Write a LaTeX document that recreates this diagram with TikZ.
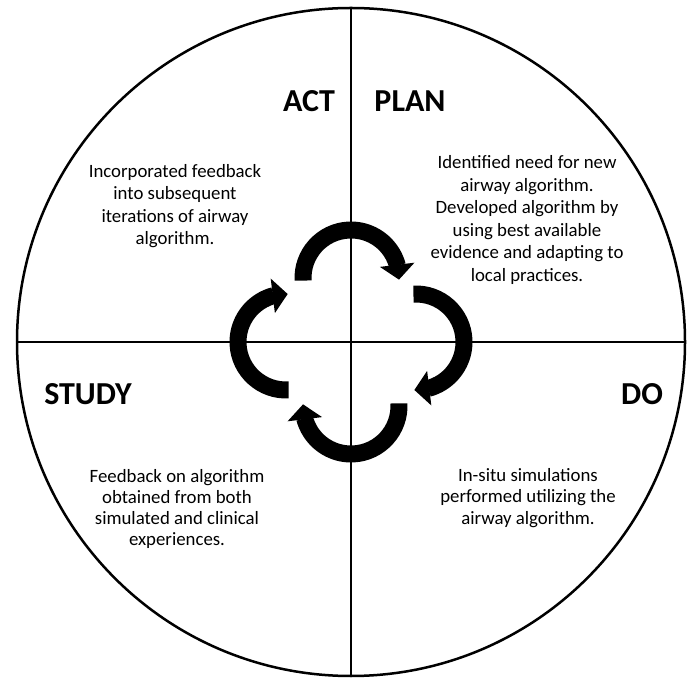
\documentclass[tikz,border=0pt]{standalone}
\usepackage{fontspec}
\setmainfont{Carlito}
\usetikzlibrary{calc,arrows.meta,bending}
\tikzstyle{ring}=[circle,draw,line width=2.5pt,minimum size=668pt,inner sep=0pt]
\tikzstyle{divider}=[draw,line width=2pt,-]
\tikzstyle{cyclearrow}=[draw,line width=17pt,-{Triangle[width=34pt,length=15pt,flex]}]
\tikzstyle{phase}=[font=\fontsize{32}{38}\selectfont\bfseries,inner sep=0pt,anchor=base]
\tikzstyle{note}=[font=\fontsize{18.8}{22.5}\selectfont,align=center,inner sep=0pt]
\tikzstyle{low note}=[note,font=\fontsize{18.8}{21.2}\selectfont]

\begin{document}
\begin{tikzpicture}[x=1pt,y=1pt]
        \useasboundingbox (0,0) rectangle (695,677);
        \node[ring] (wheel) at (351,335) {};
        \coordinate (hub) at (wheel.center);
        \path[divider] (wheel.north) -- (wheel.south);
        \path[divider] (wheel.west) -- (wheel.east);

        % four bent arrows round the hub
        \foreach \a/\dx/\dy in {180/0/64, 90/65/0, 0/0/-64, -90/-65/0}{
            \path[cyclearrow] ($(hub)+(\dx,\dy)+(\a+3:48)$) arc[start angle=\a+3, end angle=\a-182, radius=48];
        }

        \node[phase] (act) at (309,565) {ACT};
        \node[phase] (plan) at (410,565) {PLAN};
        \node[phase] (study) at (88,272) {STUDY};
        \node[phase] (do) at (642,272) {DO};

        \node[note] (act_text) at (175,471) {Incorporated feedback\\into subsequent\\iterations of airway\\algorithm.};
        \node[note] (plan_text) at (527,457) {Identified need for new\\airway algorithm.\\Developed algorithm by\\using best available\\evidence and adapting to\\local practices.};
        \node[low note] (study_text) at (177,168) {Feedback on algorithm\\obtained from both\\simulated and clinical\\experiences.};
        \node[low note] (do_text) at (528,179) {In-situ simulations\\performed utilizing the\\airway algorithm.};
\end{tikzpicture}
\end{document}
